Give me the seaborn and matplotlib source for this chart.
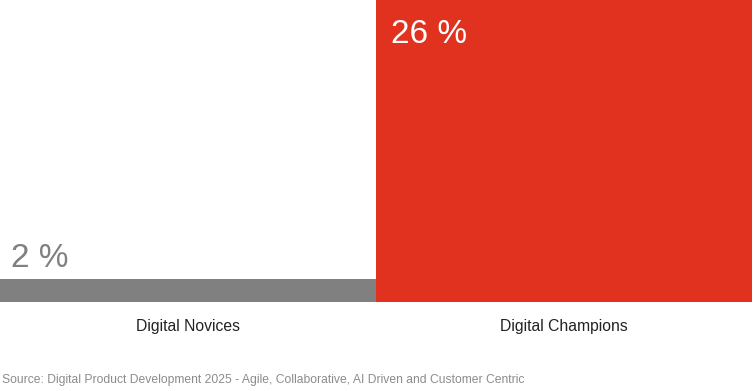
import pandas as pd
import seaborn as sns
import matplotlib.pyplot as plt

categories = ['Digital Novices', 'Digital Champions']
values = [2, 26]
labels = ['2 %', '26 %']
colors = ['#808080', '#e0321f']
label_colors = ['#808080', '#ffffff']
source = 'Source: Digital Product Development 2025 - Agile, Collaborative, AI Driven and Customer Centric'

sns.set_theme(style='white')
plt.rcParams['font.family'] = ['Liberation Sans', 'DejaVu Sans']

df = pd.DataFrame({'category': categories, 'value': values})

fig = plt.figure(figsize=(7.53, 3.91), dpi=100)
ax = fig.add_axes([0, 89 / 391, 752 / 753, 302 / 391])
sns.barplot(data=df, x='category', y='value', hue='category', palette=colors,
            width=1.0, legend=False, ax=ax, linewidth=0, saturation=1)
ax.set_xlim(-0.5, 1.5)
ax.set_ylim(0, 26)
sns.despine(ax=ax, left=True, bottom=True)
ax.set_yticks([])
ax.set_xlabel('')
ax.set_ylabel('')
ax.tick_params(axis='x', length=0, pad=12, labelsize=11.3, labelcolor='#222222')

# value labels: above the short bar, inside the tall one
ax.text(-0.472, values[0] + 0.45, labels[0], color=label_colors[0], fontsize=24,
        ha='left', va='bottom')
ax.text(0.54, values[1] - 1.6, labels[1], color=label_colors[1], fontsize=24,
        ha='left', va='top')

fig.text(2 / 753, 1 - 380 / 391, source, color='#8c8c8c', fontsize=8.75,
         ha='left', va='center')

fig.savefig('out.png', dpi=100)
